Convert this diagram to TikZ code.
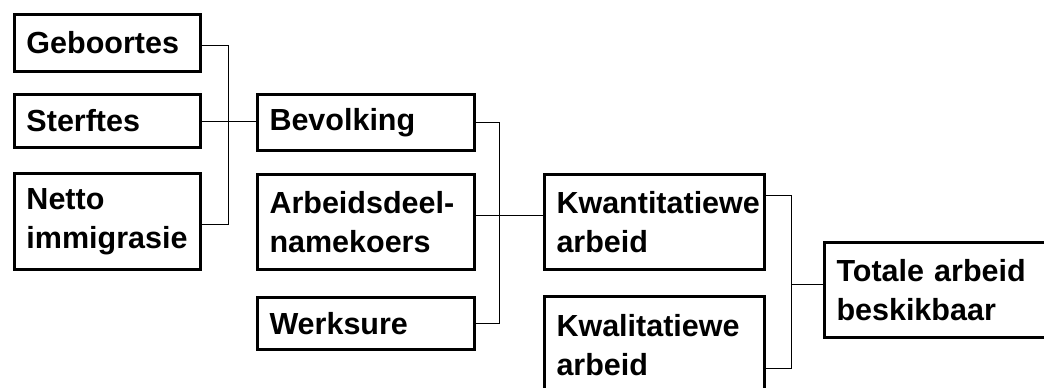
\documentclass[tikz,border=0pt]{standalone}
\usepackage{fontspec}
\setmainfont{Liberation Sans}
\begin{document}
\begin{tikzpicture}[x=1pt,y=-1pt,
  box/.style={draw=black, line width=3pt, anchor=north west, inner xsep=12pt, inner ysep=0pt,
    align=left, font=\bfseries\fontsize{30.5}{39}\selectfont},
  conn/.style={draw=black, line width=1pt}]
\useasboundingbox (0,0) rectangle (1044,388);
\clip (0,0) rectangle (1044,388);
\fill[white] (0,0) rectangle (1044,388);
% column 1
\node[box, text width=162pt, minimum width=186pt, minimum height=57pt] (geb) at (13,13) {Geboortes};
\node[box, text width=162pt, minimum width=186pt, minimum height=53pt] (ster) at (13,93) {Sterftes};
\node[box, text width=162pt, minimum width=186pt, minimum height=96pt] (netto) at (13,172) {Netto\\immigrasie};
% column 2
\node[box, text width=193pt, minimum width=217pt, minimum height=56pt] (bev) at (256,93) {Bevolking};
\node[box, text width=193pt, minimum width=217pt, minimum height=95pt] (arb) at (256,173) {Arbeidsdeel-\\namekoers};
\node[box, text width=193pt, minimum width=217pt, minimum height=52pt] (werk) at (256,296) {Werksure};
% column 3
\node[box, text width=196pt, minimum width=220pt, minimum height=95pt] (kwan) at (543,173) {Kwantitatiewe\\arbeid};
\node[box, text width=196pt, minimum width=220pt, minimum height=97pt] (kwal) at (543,295) {Kwalitatiewe\\arbeid};
% column 4
\node[box, text width=216pt, minimum width=240pt, minimum height=95pt] (tot) at (823,241) {Totale arbeid\\beskikbaar};
% junctions
\coordinate (j1) at (228,0);
\coordinate (j2) at (499,0);
\coordinate (j3) at (791,0);
\coordinate (g1) at ([yshift=-2.5pt]geb.east);
\coordinate (n1) at ([yshift=-3pt]netto.east);
\coordinate (a1) at ([yshift=7pt]arb.east);
\coordinate (k1) at ([yshift=27pt]kwan.east);
\coordinate (k2) at ([yshift=-23pt]kwal.east);
\coordinate (t1) at ([yshift=5.5pt]tot.west);
% connectors
\draw[conn] (g1) -- (g1 -| j1) -- (n1 -| j1) -- (n1);
\draw[conn] (ster.east) -- (ster.east -| bev.west);
\draw[conn] (bev.east) -- (bev.east -| j2) -- (werk.east -| j2) -- (werk.east);
\draw[conn] (a1) -- (a1 -| kwan.west);
\draw[conn] (k1) -- (k1 -| j3) -- (k2 -| j3) -- (k2);
\draw[conn] (t1 -| j3) -- (t1);
\end{tikzpicture}
\end{document}
